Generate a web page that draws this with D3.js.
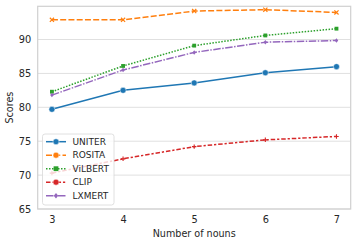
<!DOCTYPE html>
<html><head><meta charset="utf-8">
<script src="https://cdn.jsdelivr.net/npm/d3@7"></script>
<style>body{margin:0;background:#fff}svg{display:block}text{font-family:"DejaVu Sans",sans-serif;fill:#262626}</style>
</head><body><svg id="c" width="357" height="245"></svg>
<script>
const nouns = [3, 4, 5, 6, 7];
const seriesNames = ["UNITER", "ROSITA", "ViLBERT", "CLIP", "LXMERT"];
const uniter = [79.7, 82.5, 83.6, 85.1, 86.0];
const rosita = [92.9, 92.9, 94.2, 94.4, 94.0];
const vilbert = [82.3, 86.1, 89.1, 90.6, 91.6];
const clip = [70.3, 72.4, 74.2, 75.2, 75.7];
const lxmert = [81.8, 85.5, 88.1, 89.6, 89.85];
const yTicks = [65, 70, 75, 80, 85, 90];
const colors = ["#1f77b4", "#ff7f0e", "#2ca02c", "#d62728", "#9467bd"];
const dashes = [null, "6,2.25", "1.5,1.5", "4.5,1.9,2.25,1.9", "7.5,1.5,1.5,1.5"];
const markers = ["circle", "x", "square", "plus", "diamond"];

const svg = d3.select("#c");
const L = 37.7, R = 350.7, T = 6.3, B = 209;
const x = d3.scaleLinear().domain([2.8, 7.2]).range([L, R]);
const y = d3.scaleLinear().domain([65, 94.9]).range([B, T]);

// grid
svg.append("g").selectAll("line").data(yTicks).join("line")
  .attr("x1", L).attr("x2", R).attr("y1", d => y(d)).attr("y2", d => y(d))
  .attr("stroke", "#e0e0e0").attr("stroke-width", 1);
// frame
svg.append("rect").attr("x", L).attr("y", T).attr("width", R - L).attr("height", B - T)
  .attr("fill", "none").attr("stroke", "#d0d0d0").attr("stroke-width", 1.2);

// axes
const yAxis = svg.append("g").attr("transform", `translate(${L},0)`)
  .call(d3.axisLeft(y).tickValues(yTicks).tickFormat(d3.format("d")).tickSize(0).tickPadding(6.5));
yAxis.select(".domain").remove();
yAxis.selectAll("text").style("font-size", "9.8px").attr("font-family", "DejaVu Sans").attr("fill", "#262626");
const xAxis = svg.append("g").attr("transform", `translate(0,${B})`)
  .call(d3.axisBottom(x).tickValues(nouns).tickFormat(d3.format("d")).tickSize(0).tickPadding(7));
xAxis.select(".domain").remove();
xAxis.selectAll("text").style("font-size", "9.8px").attr("font-family", "DejaVu Sans").attr("fill", "#262626");

svg.append("text").attr("x", (L + R) / 2).attr("y", 236.5).attr("text-anchor", "middle")
  .style("font-size", "9.6px").text("Number of nouns");
svg.append("text").attr("transform", `translate(13,${(T + B) / 2}) rotate(-90)`).attr("text-anchor", "middle")
  .style("font-size", "9.6px").text("Scores");

const data = [uniter, rosita, vilbert, clip, lxmert];

function drawMarker(g, type, cx, cy, color, s) {
  s = s || 1;
  if (type === "circle") g.append("circle").attr("cx", cx).attr("cy", cy).attr("r", 3 * s).attr("fill", color).attr("stroke", "#fff").attr("stroke-width", 0.5);
  else if (type === "x") {
    const r = 2.6 * s;
    g.append("path").attr("d", `M${cx - r},${cy - r}L${cx + r},${cy + r}M${cx - r},${cy + r}L${cx + r},${cy - r}`).attr("stroke", color).attr("stroke-width", 1.5 * s).attr("fill", "none");
  } else if (type === "square") {
    const r = 2.4 * s;
    g.append("rect").attr("x", cx - r).attr("y", cy - r).attr("width", 2 * r).attr("height", 2 * r).attr("fill", color);
  } else if (type === "plus") {
    const r = 2.8 * s;
    g.append("path").attr("d", `M${cx - r},${cy}L${cx + r},${cy}M${cx},${cy - r}L${cx},${cy + r}`).attr("stroke", color).attr("stroke-width", 1.4 * s).attr("fill", "none");
  } else if (type === "diamond") {
    const r = 2.8 * s;
    g.append("path").attr("d", `M${cx},${cy - r}L${cx + r * 0.8},${cy}L${cx},${cy + r}L${cx - r * 0.8},${cy}Z`).attr("fill", color);
  }
}

const line = d3.line().x((d, i) => x(nouns[i])).y(d => y(d));
data.forEach((vals, k) => {
  const g = svg.append("g");
  g.append("path").datum(vals).attr("d", line).attr("fill", "none")
    .attr("stroke", colors[k]).attr("stroke-width", 1.5)
    .attr("stroke-dasharray", dashes[k]);
  vals.forEach((v, i) => drawMarker(g, markers[k], x(nouns[i]), y(v), colors[k], k === 0 ? 1 : 0.8));
});

// legend
const lg = svg.append("g");
lg.append("rect").attr("x", 42.5).attr("y", 134).attr("width", 71.5).attr("height", 71).attr("rx", 2.5)
  .attr("fill", "rgba(255,255,255,0.8)").attr("stroke", "#d8d8d8").attr("stroke-width", 0.8);
seriesNames.forEach((n, k) => {
  const yy = 141.7 + k * 13.5;
  lg.append("line").attr("x1", 46).attr("x2", 66).attr("y1", yy).attr("y2", yy)
    .attr("stroke", colors[k]).attr("stroke-width", 1.5).attr("stroke-dasharray", dashes[k]);
  drawMarker(lg, k === 1 ? "circle" : (k === 3 ? "circle" : markers[k]), 56, yy, colors[k], 1);
  lg.append("text").attr("x", 72.5).attr("y", yy).attr("dy", "0.35em").style("font-size", "9px").text(n);
});
</script></body></html>
